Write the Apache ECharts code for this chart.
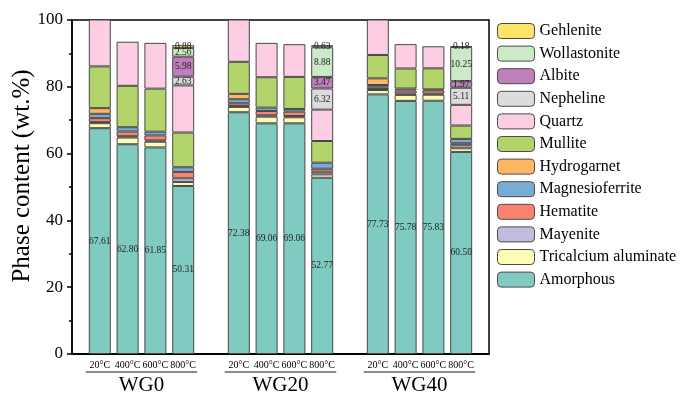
<!DOCTYPE html>
<html>
<head>
<meta charset="utf-8">
<script src="https://cdn.jsdelivr.net/npm/echarts@6/dist/echarts.min.js"></script>
<style>
  html, body { margin: 0; padding: 0; background: #fff; }
  #chart { width: 683px; height: 395px; }
</style>
</head>
<body>
<div id="chart"></div>
<script>
// Samples: three mixes, each fired at four temperatures
const groups = ['WG0', 'WG20', 'WG40'];
const temperatures = ['20°C', '400°C', '600°C', '800°C'];
const yTicks = [0, 20, 40, 60, 80, 100];

// Phase contents (wt.%), order: WG0 x4, WG20 x4, WG40 x4
const amorphous       = [67.61, 62.80, 61.85, 50.31, 72.38, 69.06, 69.06, 52.77, 77.73, 75.78, 75.83, 60.50];
const tricalcium      = [1.5, 2.0, 1.7, 1.2, 1.6, 2.0, 1.8, 1.0, 1.3, 1.8, 1.8, 1.1];
const mayenite        = [0.3, 0.4, 0.4, 1.1, 0.3, 0.4, 0.4, 0.8, 0.3, 0.4, 0.3, 0.9];
const hematite        = [1.2, 1.4, 1.5, 1.9, 0.8, 1.3, 1.3, 0.9, 0.5, 0.9, 1.0, 0.6];
const magnesioferrite = [1.3, 1.3, 1.1, 1.4, 1.2, 1.0, 0.8, 1.8, 0.7, 0.6, 0.3, 1.3];
const hydrogarnet     = [1.7, 0, 0, 0, 1.6, 0, 0, 0, 2.0, 0, 0, 0];
const mullite         = [12.5, 12.4, 12.9, 10.4, 9.6, 9.1, 9.6, 6.5, 7.0, 6.0, 6.3, 4.0];
const quartz          = [14.5, 13.2, 13.7, 14.1, 13.0, 10.3, 9.8, 9.4, 11.0, 7.3, 6.6, 6.2];
const nepheline       = [0, 0, 0, 2.63, 0, 0, 0, 6.32, 0, 0, 0, 5.11];
const albite          = [0, 0, 0, 5.98, 0, 0, 0, 3.47, 0, 0, 0, 1.97];
const wollastonite    = [0, 0, 0, 2.56, 0, 0, 0, 8.88, 0, 0, 0, 10.25];
const gehlenite       = [0, 0, 0, 0.88, 0, 0, 0, 0.63, 0, 0, 0, 0.18];

// Stacking order bottom -> top
const phases = [
  { name: 'Amorphous',            data: amorphous,       color: '#7fcbc1', label: true },
  { name: 'Tricalcium aluminate', data: tricalcium,      color: '#fdfbb5' },
  { name: 'Mayenite',             data: mayenite,        color: '#bfbcdd' },
  { name: 'Hematite',             data: hematite,        color: '#fa8270' },
  { name: 'Magnesioferrite',      data: magnesioferrite, color: '#78acd5' },
  { name: 'Hydrogarnet',          data: hydrogarnet,     color: '#fdb662' },
  { name: 'Mullite',              data: mullite,         color: '#b2d46a' },
  { name: 'Quartz',               data: quartz,          color: '#fccde3' },
  { name: 'Nepheline',            data: nepheline,       color: '#dcdcdc', label: true },
  { name: 'Albite',               data: albite,          color: '#bf7fbc', label: true },
  { name: 'Wollastonite',         data: wollastonite,    color: '#cce9c8', label: true },
  { name: 'Gehlenite',            data: gehlenite,       color: '#fee468', label: true }
];

// Category slots: a blank slot before, between and after the groups
const categories = [''];
const slotOf = [];
groups.forEach(() => {
  temperatures.forEach(t => { slotOf.push(categories.length); categories.push(t); });
  categories.push('');
});

function padded(values) {
  const arr = categories.map(() => null);
  values.forEach((v, i) => { arr[slotOf[i]] = v > 0 ? v : null; });
  return arr;
}

const serif = 'Liberation Serif, Times New Roman, serif';

const series = phases.map(p => ({
  name: p.name,
  type: 'bar',
  stack: 'phase',
  barWidth: 22,
  data: padded(p.data),
  itemStyle: { color: p.color, borderColor: '#484848', borderWidth: 1 },
  label: {
    show: !!p.label,
    position: 'inside',
    fontFamily: serif,
    fontSize: 9.5,
    color: '#222',
    formatter: prm => (prm.value == null ? '' : Number(prm.value).toFixed(2))
  },
  emphasis: { disabled: true }
}));

const chart = echarts.init(document.getElementById('chart'));
chart.setOption({
  animation: false,
  backgroundColor: '#fff',
  grid: {
    left: 72, right: 194, top: 20, bottom: 41,
    outerBoundsMode: 'none',
    show: true, borderColor: '#000', borderWidth: 1.5, backgroundColor: 'transparent'
  },
  legend: {
    orient: 'vertical',
    left: 497,
    top: 23,
    padding: 0,
    itemWidth: 37,
    itemHeight: 15,
    itemGap: 6.6,
    data: phases.map(p => p.name).reverse(),
    textStyle: { fontFamily: serif, fontSize: 16, color: '#000' },
    itemStyle: { borderColor: '#4a4a4a', borderWidth: 1 },
    selectedMode: false
  },
  xAxis: {
    type: 'category',
    data: categories,
    boundaryGap: false,
    axisLine: { lineStyle: { color: '#000', width: 2 } },
    axisTick: { show: false },
    axisLabel: { fontFamily: serif, fontSize: 10, color: '#000', margin: 6, interval: 0 }
  },
  yAxis: {
    type: 'value',
    min: yTicks[0],
    max: yTicks[yTicks.length - 1],
    interval: yTicks[1] - yTicks[0],
    name: 'Phase content (wt.%)',
    nameLocation: 'middle',
    nameGap: 37,
    nameMoveOverlap: false,
    nameTextStyle: { fontFamily: serif, fontSize: 25, color: '#000', padding: [0, 0, 0, 22] },
    axisLine: { show: true, lineStyle: { color: '#000', width: 1.5 } },
    axisTick: { show: true, inside: false, length: 5, lineStyle: { color: '#000', width: 1.5 } },
    minorTick: { show: true, splitNumber: 2, length: 3, lineStyle: { color: '#000', width: 1.5 } },
    splitLine: { show: false },
    axisLabel: { fontFamily: serif, fontSize: 17, color: '#000', margin: 9 }
  },
  series
});

// Group captions with an underline spanning each group's four bars
const graphics = [];
const y0 = chart.convertToPixel({ yAxisIndex: 0 }, 0);
groups.forEach((g, gi) => {
  const first = chart.convertToPixel({ xAxisIndex: 0 }, slotOf[gi * 4]);
  const last = chart.convertToPixel({ xAxisIndex: 0 }, slotOf[gi * 4 + 3]);
  graphics.push({
    type: 'line',
    shape: { x1: first - 14, y1: y0 + 18, x2: last + 14, y2: y0 + 18 },
    style: { stroke: '#8a8a8a', lineWidth: 2 }
  });
  graphics.push({
    type: 'text',
    x: (first + last) / 2,
    y: y0 + 31,
    style: { text: g, font: '21px ' + serif, fill: '#000', textAlign: 'center', textVerticalAlign: 'middle' }
  });
});
chart.setOption({ graphic: graphics });
</script>
</body>
</html>
